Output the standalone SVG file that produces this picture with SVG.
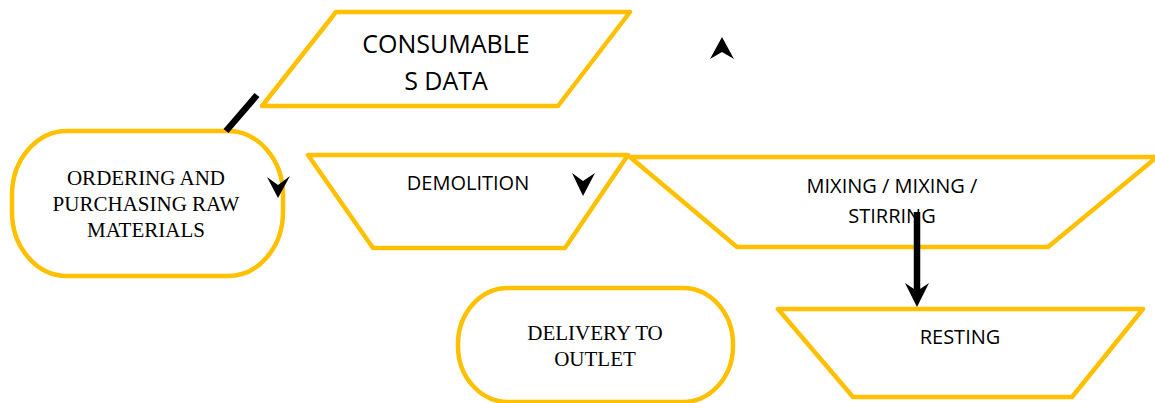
<svg xmlns="http://www.w3.org/2000/svg" width="1155" height="403" viewBox="0 0 1155 403">
  <style>
    .shape { fill: #FFFFFF; stroke: #FFC000; stroke-width: 4.5; stroke-linejoin: round; }
    .sans { font-family: "Open Sans", "Liberation Sans", sans-serif; fill: #000000; text-anchor: middle; }
    .serif { font-family: "Liberation Serif", "Times New Roman", serif; fill: #000000; text-anchor: middle; }
    .wire { stroke: #000000; stroke-width: 6.5; fill: none; }
    .head { fill: #000000; stroke: none; }
  </style>

  <rect x="0" y="0" width="1155" height="403" fill="#FFFFFF"/>

  <!-- input / output: consumables data -->
  <g id="node-consumables">
    <polygon class="shape" points="336,12 630,12 558,106 262,106"/>
    <text class="sans" font-size="25" x="446" y="53">CONSUMABLE</text>
    <text class="sans" font-size="25" x="446" y="90">S DATA</text>
  </g>

  <!-- terminator: ordering -->
  <g id="node-ordering">
    <rect class="shape" x="12" y="131" width="271" height="145" rx="55" ry="64"/>
    <text class="serif" font-size="21" x="146" y="185">ORDERING AND</text>
    <text class="serif" font-size="21" x="146" y="210.5">PURCHASING RAW</text>
    <text class="serif" font-size="21" x="146" y="236.5">MATERIALS</text>
  </g>

  <!-- manual operation: demolition -->
  <g id="node-demolition">
    <polygon class="shape" points="308,155 628,155 565,248 373,248"/>
    <text class="sans" font-size="20" x="468" y="190">DEMOLITION</text>
  </g>

  <!-- manual operation: mixing -->
  <g id="node-mixing">
    <polygon class="shape" points="630,157 1157,157 1048,247 737,247"/>
    <text class="sans" font-size="20" x="892" y="193">MIXING / MIXING /</text>
    <text class="sans" font-size="20" x="892" y="223">STIRRING</text>
  </g>

  <!-- terminator: delivery -->
  <g id="node-delivery">
    <rect class="shape" x="458" y="288" width="275" height="114" rx="50" ry="56"/>
    <text class="serif" font-size="21" x="595" y="340">DELIVERY TO</text>
    <text class="serif" font-size="21" x="595" y="365.5">OUTLET</text>
  </g>

  <!-- manual operation: resting -->
  <g id="node-resting">
    <polygon class="shape" points="778,309 1143,309 1072,397 853,397"/>
    <text class="sans" font-size="20" x="960" y="344">RESTING</text>
  </g>

  <!-- connectors and loose arrowheads -->
  <g id="connectors">
    <line class="wire" x1="257" y1="95" x2="226" y2="131"/>
    <line class="wire" x1="917" y1="212" x2="917" y2="292"/>
    <polygon class="head" points="905,283 917,307 929,283 917,291"/>
    <polygon class="head" points="267,177 278,198 290,176 278,185"/>
    <polygon class="head" points="572,173 583,196 595,173 583,181"/>
    <polygon class="head" points="710,59 722,37 734,59 722,52"/>
  </g>
</svg>
